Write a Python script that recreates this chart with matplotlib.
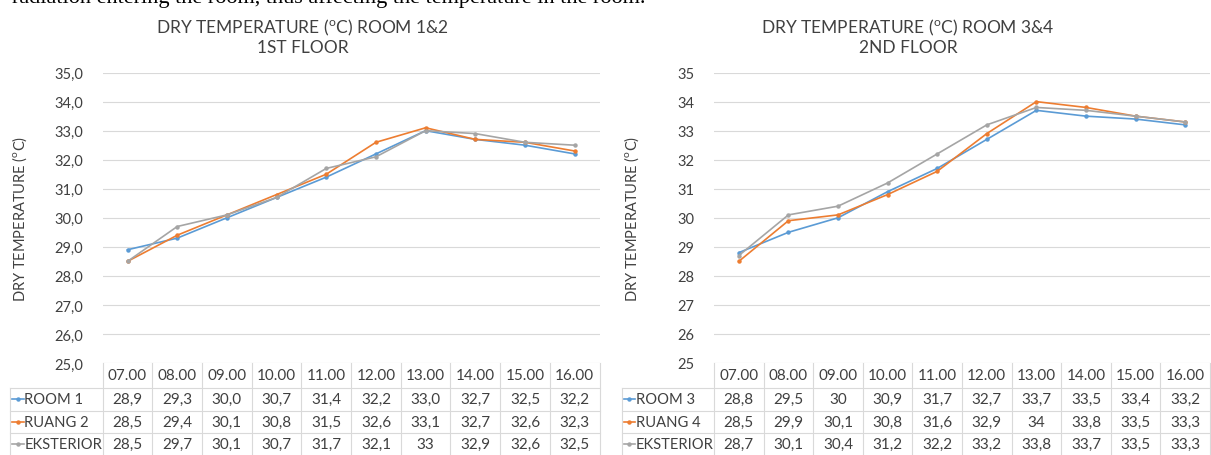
import matplotlib.pyplot as plt

plt.rcParams['font.family'] = ['Lato', 'DejaVu Sans']
plt.rcParams['mathtext.fontset'] = 'custom'
plt.rcParams['mathtext.rm'] = 'Lato'

hours = ['07.00', '08.00', '09.00', '10.00', '11.00', '12.00', '13.00', '14.00', '15.00', '16.00']

# 1st floor (values kept as typed in the data table)
room_1 = [28.9, 29.3, 30.0, 30.7, 31.4, 32.2, 33.0, 32.7, 32.5, 32.2]
ruang_2 = [28.5, 29.4, 30.1, 30.8, 31.5, 32.6, 33.1, 32.7, 32.6, 32.3]
eksterior_1 = [28.5, 29.7, 30.1, 30.7, 31.7, 32.1, 33, 32.9, 32.6, 32.5]
names_1 = ['ROOM 1', 'RUANG 2', 'EKSTERIOR']

# 2nd floor
room_3 = [28.8, 29.5, 30, 30.9, 31.7, 32.7, 33.7, 33.5, 33.4, 33.2]
ruang_4 = [28.5, 29.9, 30.1, 30.8, 31.6, 32.9, 34, 33.8, 33.5, 33.3]
eksterior_2 = [28.7, 30.1, 30.4, 31.2, 32.2, 33.2, 33.8, 33.7, 33.5, 33.3]
names_2 = ['ROOM 3', 'RUANG 4', 'EKSTERIOR']

y_ticks = list(range(25, 36))
colors = ['#5B9BD5', '#ED7D31', '#A5A5A5']
grid_c = '#d9d9d9'
text_c = '#404040'

W, H = 1211, 456
fig = plt.figure(figsize=(W / 100, H / 100), dpi=100)


def px_axes(left, right, top, bottom):
    return fig.add_axes([left / W, 1 - bottom / H, (right - left) / W, (bottom - top) / H])


ax_h = 364 - 73.6
row_px = [0, 25, 47.5, 70, 92.5]
rows = [-p / ax_h for p in row_px]
leg_left = -2.36


def draw_panel(ax, series, names, tick_fmt):
    x = list(range(len(hours)))
    for vals, c in zip(series, colors):
        ax.plot(x, vals, color=c, lw=1.2, marker='o', ms=2.2, zorder=3)
    ax.set_xlim(-0.5, len(hours) - 0.5)
    ax.set_ylim(25, 35)
    ax.set_yticks(y_ticks)
    ax.set_yticklabels([tick_fmt(t) for t in y_ticks])
    ax.set_xticks([])
    ax.grid(axis='y', color=grid_c, lw=0.8)
    ax.set_axisbelow(True)
    for s in ax.spines.values():
        s.set_visible(False)
    ax.tick_params(length=0, pad=14, labelsize=10.5, labelcolor=text_c)

    # data table under the plot
    tr = ax.get_xaxis_transform()
    kw = dict(transform=tr, clip_on=False, color=grid_c, lw=0.8)
    for y in rows[1:]:
        ax.plot([leg_left, len(hours) - 0.5], [y, y], **kw)
    for i in range(len(hours) + 1):
        ax.plot([i - 0.5, i - 0.5], [0, rows[-1]], **kw)
    ax.plot([leg_left, leg_left], [rows[1], rows[-1]], **kw)

    mid = [(rows[k] + rows[k + 1]) / 2 for k in range(len(rows) - 1)]
    for i, h in enumerate(hours):
        ax.text(i, mid[0], h, transform=tr, ha='center', va='center',
                fontsize=11, color=text_c)
    for r, (vals, name, c) in enumerate(zip(series, names, colors)):
        ym = mid[r + 1]
        ax.plot([leg_left + 0.04, leg_left + 0.27], [ym, ym], transform=tr,
                clip_on=False, color=c, lw=1.2)
        ax.plot([leg_left + 0.155], [ym], transform=tr, clip_on=False,
                color=c, marker='o', ms=2.2)
        ax.text(leg_left + 0.28, ym, name, transform=tr, ha='left', va='center',
                fontsize=10.6, color=text_c)
        for i, v in enumerate(vals):
            ax.text(i, ym, str(v).replace('.', ','), transform=tr,
                    ha='center', va='center', fontsize=11, color=text_c)


ax1 = px_axes(102.7, 599.5, 73.6, 364)
draw_panel(ax1, [room_1, ruang_2, eksterior_1], names_1,
           lambda t: f'{t:.1f}'.replace('.', ','))
ax2 = px_axes(714, 1210, 73.6, 364)
draw_panel(ax2, [room_3, ruang_4, eksterior_2], names_2, lambda t: str(t))

deg = r'(${}^{\mathrm{o}}$C)'
fig.text(303 / W, 1 - 36.5 / H, f'DRY TEMPERATURE {deg} ROOM 1&2\n1ST FLOOR',
         ha='center', va='center', fontsize=12.5, color=text_c, linespacing=1.15)
fig.text(908 / W, 1 - 36.5 / H, f'DRY TEMPERATURE {deg} ROOM 3&4\n2ND FLOOR',
         ha='center', va='center', fontsize=12.5, color=text_c, linespacing=1.15)
fig.text(20 / W, 1 - 219 / H, f'DRY TEMPERATURE {deg}', rotation=90,
         ha='center', va='center', fontsize=10.5, color=text_c)
fig.text(632 / W, 1 - 219 / H, f'DRY TEMPERATURE {deg}', rotation=90,
         ha='center', va='center', fontsize=10.5, color=text_c)

# cut-off sentence of the surrounding document, as in the source screenshot
fig.text(12 / W, 1 - 3.5 / H,
         'radiation entering the room, thus affecting the temperature in the room.',
         family='Liberation Serif', fontsize=16, ha='left', va='baseline', color='black')

fig.savefig('out.png', dpi=100)
